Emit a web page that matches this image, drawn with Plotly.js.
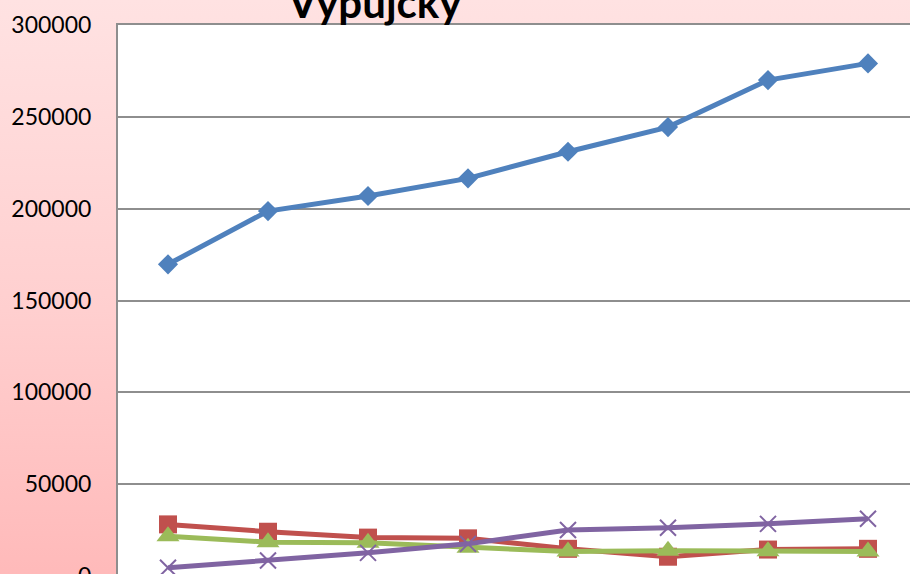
<!DOCTYPE html>
<html>
<head>
<meta charset="utf-8">
<script src="https://cdn.plot.ly/plotly-3.0.1.min.js"></script>
<style>
  html, body { margin: 0; padding: 0; width: 910px; height: 574px; overflow: hidden; }
  #wrap { width: 960px; height: 620px; background: linear-gradient(to bottom, #FFE2E2 0%, #FFCFCF 50%, #FFB6B6 100%); }
  #chart { width: 960px; height: 620px; }
</style>
</head>
<body>
<div id="wrap"><div id="chart"></div></div>
<script>
// Data (x labels are cropped out of the view)
const categories = ['2004', '2005', '2006', '2007', '2008', '2009', '2010', '2011'];
const seriesNames = ['Celkem', 'Řada 2', 'Řada 3', 'Řada 4'];
const blueValues   = [169700, 198700, 206900, 216500, 231000, 244400, 270000, 279100];
const redValues    = [28100, 24100, 20900, 20500, 14800, 10500, 14400, 14800];
const greenValues  = [21700, 18400, 18100, 15400, 13300, 13800, 13500, 13300];
const purpleValues = [4500, 8400, 12600, 17500, 25000, 26300, 28400, 31200];
const yTicks = [0, 50000, 100000, 150000, 200000, 250000, 300000];
const titleText = 'Výpůjčky';

const traces = [
  {name: seriesNames[0], y: blueValues, color: '#4F81BD', symbol: 'diamond', size: 15.5},
  {name: seriesNames[1], y: redValues, color: '#C0504D', symbol: 'square', size: 18},
  {name: seriesNames[2], y: greenValues, color: '#9BBB59', symbol: 'triangle-up', size: 20},
  {name: seriesNames[3], y: purpleValues, color: '#8064A2', symbol: 'x-thin', size: 16}
].map(s => ({
  type: 'scatter', mode: 'lines+markers', name: s.name,
  x: categories, y: s.y,
  line: {color: s.color, width: 5},
  marker: s.symbol === 'x-thin'
    ? {symbol: s.symbol, size: s.size, color: s.color, line: {color: s.color, width: 2}}
    : {symbol: s.symbol, size: s.size, color: s.color},
  cliponaxis: false
}));

const layout = {
  width: 960, height: 620,
  margin: {l: 118, r: 42, t: 25, b: 43.5},
  paper_bgcolor: 'rgba(0,0,0,0)',
  plot_bgcolor: '#FFFFFF',
  showlegend: false,
  font: {family: 'Lato, "Liberation Sans", Arial, sans-serif', color: '#000000'},
  xaxis: {
    type: 'category', range: [-0.5, 7.5],
    showgrid: false, zeroline: false,
    showline: true, mirror: true, linecolor: '#8E8E8E', linewidth: 2,
    ticks: 'outside', tickcolor: '#8E8E8E', ticklen: 5,
    showticklabels: false
  },
  yaxis: {
    range: [0, 300000], tickvals: yTicks, ticktext: yTicks.map(v => String(v)),
    showgrid: true, gridcolor: '#8E8E8E', gridwidth: 2, zeroline: false,
    showline: true, mirror: true, linecolor: '#8E8E8E', linewidth: 2,
    ticks: 'outside', tickcolor: 'rgba(0,0,0,0)', ticklen: 20,
    tickfont: {size: 23, family: 'Lato, "Liberation Sans", Arial, sans-serif'}
  },
  annotations: [{
    text: '<b>' + titleText + '</b>',
    xref: 'paper', yref: 'paper',
    x: (374 - 118) / 800, y: 1 - 4 / 551.5,
    xanchor: 'center', yanchor: 'bottom',
    showarrow: false,
    font: {size: 42, family: 'Lato, "Liberation Sans", Arial, sans-serif', color: '#000000'}
  }]
};

Plotly.newPlot('chart', traces, layout, {displayModeBar: false, staticPlot: true});
</script>
</body>
</html>
